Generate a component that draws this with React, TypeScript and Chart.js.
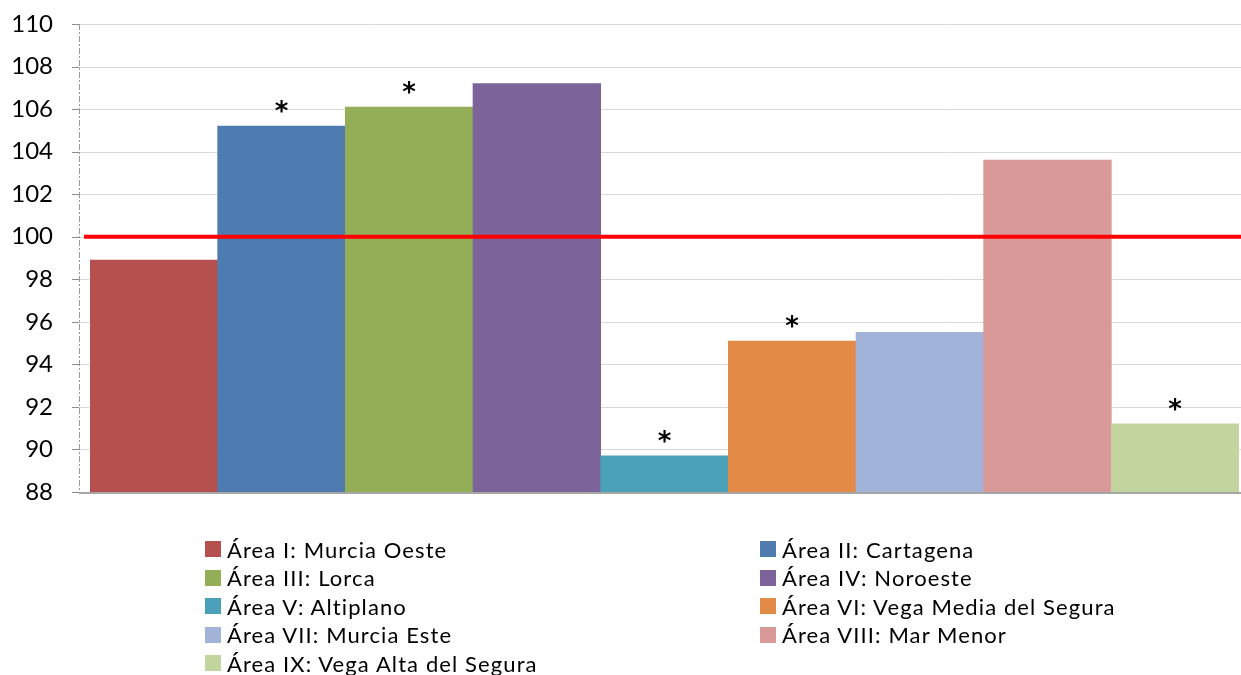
import React, { useEffect, useRef } from "react";
import { Chart, registerables } from "chart.js";

Chart.register(...registerables);

const categories = [
  "Área I: Murcia Oeste",
  "Área II: Cartagena",
  "Área III: Lorca",
  "Área IV: Noroeste",
  "Área V: Altiplano",
  "Área VI: Vega Media del Segura",
  "Área VII: Murcia Este",
  "Área VIII: Mar Menor",
  "Área IX: Vega Alta del Segura",
];
const values = [98.9, 105.2, 106.1, 107.2, 89.7, 95.1, 95.5, 103.6, 91.2];
const significant = [false, true, true, false, true, true, false, false, true];
const colors = ["#b5504e", "#4e7bb0", "#94ae57", "#7c639a", "#4aa0b8", "#e38a47", "#a1b3d8", "#d99998", "#c3d59f"];
const yMin = 88;
const yMax = 110;
const yStep = 2;
const referenceValue = 100;

const overlayPlugin = {
  id: "overlay",
  beforeDatasetsDraw(chart: any) {
    const { ctx, chartArea, scales } = chart;
    const y = scales.y;
    const axisX = chartArea.left - 11;
    const rightX = chart.width;
    ctx.save();
    y.ticks.forEach((t: any) => {
      const py = Math.round(y.getPixelForValue(t.value)) + 0.5;
      ctx.strokeStyle = "#d9d9d9";
      ctx.lineWidth = 1;
      ctx.beginPath();
      ctx.moveTo(axisX, py);
      ctx.lineTo(rightX, py);
      ctx.stroke();
      ctx.strokeStyle = "#8c8c8c";
      ctx.beginPath();
      ctx.moveTo(axisX - 7, py);
      ctx.lineTo(axisX, py);
      ctx.stroke();
    });
    ctx.strokeStyle = "#9a9a9a";
    ctx.lineWidth = 1;
    ctx.setLineDash([6, 2, 2, 2]);
    ctx.beginPath();
    ctx.moveTo(axisX + 0.5, y.getPixelForValue(yMax));
    ctx.lineTo(axisX + 0.5, y.getPixelForValue(yMin));
    ctx.stroke();
    ctx.restore();
  },
  afterDatasetsDraw(chart: any) {
    const { ctx, chartArea, scales } = chart;
    const y = scales.y;
    const axisX = chartArea.left - 11;
    ctx.save();
    const by = y.getPixelForValue(yMin);
    ctx.strokeStyle = "#a6a6a6";
    ctx.lineWidth = 2;
    ctx.beginPath();
    ctx.moveTo(axisX, by + 1);
    ctx.lineTo(chart.width, by + 1);
    ctx.stroke();
    const ry = y.getPixelForValue(referenceValue);
    ctx.strokeStyle = "#ff0000";
    ctx.lineWidth = 4;
    ctx.beginPath();
    ctx.moveTo(axisX + 5, ry);
    ctx.lineTo(chart.width, ry);
    ctx.stroke();
    const meta = chart.getDatasetMeta(0);
    ctx.fillStyle = "#000";
    ctx.font = "bold 26px 'DejaVu Sans'";
    ctx.textAlign = "center";
    ctx.textBaseline = "alphabetic";
    meta.data.forEach((bar: any, i: number) => {
      if (significant[i]) ctx.fillText("*", bar.x, bar.y - 6);
    });
    ctx.restore();
  },
};

export default function App() {
  const ref = useRef<HTMLCanvasElement>(null);
  useEffect(() => {
    if (!ref.current) return;
    const chart = new Chart(ref.current, {
      type: "bar",
      data: {
        labels: categories,
        datasets: [
          {
            data: values,
            backgroundColor: colors,
            borderWidth: 0,
            barPercentage: 1,
            categoryPercentage: 1,
            base: yMin,
          },
        ],
      },
      options: {
        animation: false,
        responsive: false,
        maintainAspectRatio: false,
        layout: { padding: { top: 24, bottom: 183, left: 0, right: 2 } },
        plugins: { legend: { display: false }, tooltip: { enabled: false } },
        scales: {
          x: {
            display: true,
            grid: { display: false, drawTicks: false },
            border: { display: false },
            ticks: { display: false },
          },
          y: {
            min: yMin,
            max: yMax,
            afterFit: (s: any) => {
              s.width = 90;
              s.paddingTop = 0;
              s.paddingBottom = 0;
            },
            grid: { display: false, drawTicks: false },
            border: { display: false },
            ticks: {
              stepSize: yStep,
              padding: 37,
              color: "#000",
              font: { family: "Lato", size: 24 },
            },
          },
        },
      },
      plugins: [overlayPlugin],
    });
    return () => chart.destroy();
  }, []);

  return (
    <div style={{ position: "fixed", left: 0, top: 0, width: 1241, height: 675, background: "#fff", overflow: "hidden" }}>
      <canvas ref={ref} width={1241} height={675} style={{ position: "absolute", left: 0, top: 0 }} />
      {categories.map((c, i) => {
        const col = i % 2;
        const row = Math.floor(i / 2);
        return (
          <div
            key={c}
            style={{
              position: "absolute",
              left: col === 0 ? 205 : 760,
              top: 549 + row * 28.6 - 14,
              height: 28,
              display: "flex",
              alignItems: "center",
              fontFamily: "Lato",
              fontSize: 22,
              letterSpacing: "1.1px",
              color: "#000",
              whiteSpace: "nowrap",
            }}
          >
            <span style={{ display: "inline-block", width: 16, height: 16, background: colors[i], marginRight: 6 }} />
            {c}
          </div>
        );
      })}
    </div>
  );
}
